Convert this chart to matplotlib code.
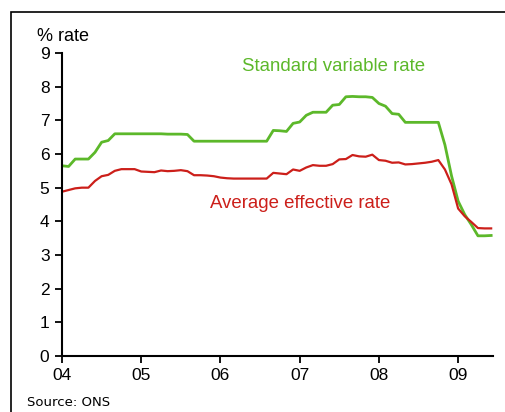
import numpy as np
import matplotlib
matplotlib.use("Agg")
import matplotlib.pyplot as plt
from matplotlib.patches import Rectangle

plt.rcParams['font.family'] = ['Liberation Sans', 'DejaVu Sans']

# monthly series, Jan 2004 - Jun 2009
start_year = 2004
standard_variable = [5.65, 5.63, 5.85, 5.85, 5.85, 6.05, 6.35, 6.40, 6.60, 6.60,
                     6.60, 6.60, 6.60, 6.60, 6.60, 6.60, 6.59, 6.59, 6.59, 6.58,
                     6.38, 6.38, 6.38, 6.38, 6.38, 6.38, 6.38, 6.38, 6.38, 6.38,
                     6.38, 6.38, 6.70, 6.69, 6.67, 6.91, 6.95, 7.15, 7.24, 7.24,
                     7.24, 7.45, 7.47, 7.70, 7.71, 7.70, 7.70, 7.68, 7.50, 7.42,
                     7.20, 7.18, 6.94, 6.94, 6.94, 6.94, 6.94, 6.94, 6.27, 5.35,
                     4.60, 4.20, 3.90, 3.57, 3.57, 3.58]
average_effective = [4.88, 4.93, 4.98, 5.00, 5.00, 5.20, 5.34, 5.38, 5.50, 5.55,
                     5.55, 5.55, 5.48, 5.47, 5.46, 5.51, 5.49, 5.50, 5.52, 5.49,
                     5.37, 5.37, 5.36, 5.34, 5.30, 5.28, 5.27, 5.27, 5.27, 5.27,
                     5.27, 5.27, 5.44, 5.42, 5.40, 5.54, 5.50, 5.60, 5.67, 5.65,
                     5.65, 5.70, 5.84, 5.85, 5.97, 5.93, 5.92, 5.98, 5.82, 5.80,
                     5.74, 5.75, 5.69, 5.70, 5.72, 5.74, 5.77, 5.82, 5.54, 5.10,
                     4.38, 4.15, 3.98, 3.80, 3.79, 3.79]
year_ticks = [2004, 2005, 2006, 2007, 2008, 2009]
year_labels = ['04', '05', '06', '07', '08', '09']

t = start_year + np.arange(len(standard_variable)) / 12.0

green = '#5cb82a'
red = '#cc1f1a'

fig = plt.figure(figsize=(5.05, 4.12), dpi=100)
ax = fig.add_axes([62/505, 1 - 356/412, (493-62)/505, (356-53)/412])

ax.plot(t, standard_variable, color=green, lw=2.0, solid_joinstyle='round')
ax.plot(t, average_effective, color=red, lw=1.6, solid_joinstyle='round')

ax.set_xlim(2004, 2009.44)
ax.set_ylim(0, 9)
ax.set_xticks(year_ticks)
ax.set_xticklabels(year_labels)
ax.set_yticks(range(10))
ax.tick_params(labelsize=12.5, length=5, width=1.3, pad=4)
ax.spines['top'].set_visible(False)
ax.spines['right'].set_visible(False)
ax.spines['left'].set_linewidth(1.5)
ax.spines['bottom'].set_linewidth(1.5)

ax.text(2006.27, 8.47, 'Standard variable rate', color=green, fontsize=13.4)
ax.text(2005.87, 4.40, 'Average effective rate', color=red, fontsize=13.4)

fig.text(37/505, 1 - 41/412, '% rate', fontsize=13, va='baseline')
fig.text(27/505, 1 - 402/412, 'Source: ONS', fontsize=9.5, va='center',
         family='DejaVu Sans')

# outer frame
fig.add_artist(Rectangle((11/505, -0.05), 1.0, 1 - 12/412 + 0.05,
                         transform=fig.transFigure, fill=False,
                         edgecolor='black', lw=1.2, clip_on=False))

fig.savefig('out.png', dpi=100)
